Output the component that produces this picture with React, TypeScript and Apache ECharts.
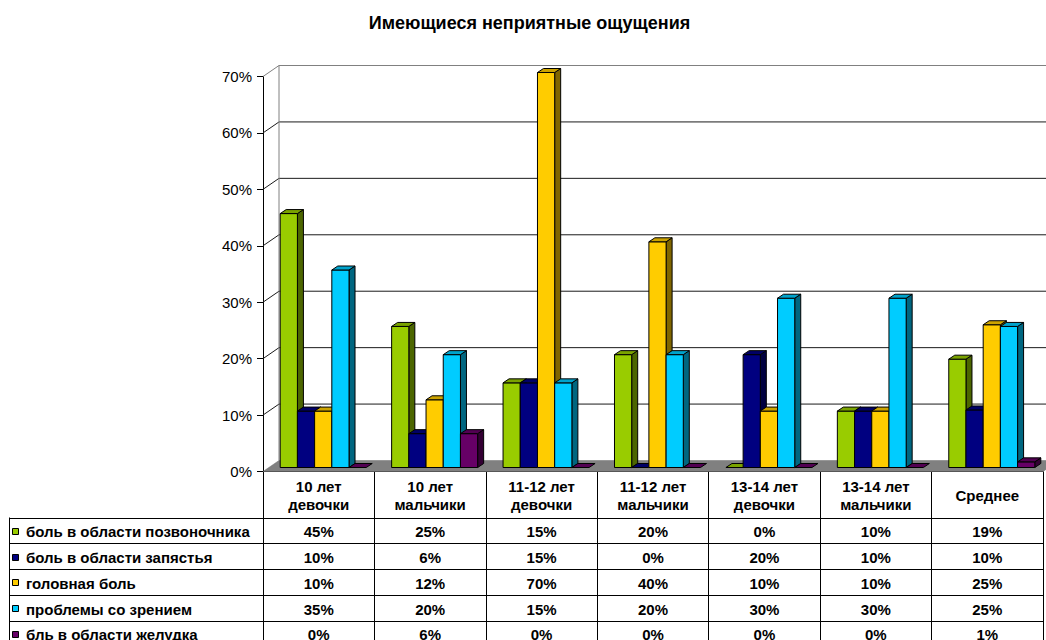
import React, { useEffect, useRef } from 'react';
import * as echarts from 'echarts';

const chartTitle = 'Имеющиеся неприятные ощущения';
const categories = [
  '10 лет\nдевочки',
  '10 лет\nмальчики',
  '11-12 лет\nдевочки',
  '11-12 лет\nмальчики',
  '13-14 лет\nдевочки',
  '13-14 лет\nмальчики',
  'Среднее',
];
const seriesNames = [
  'боль в области позвоночника',
  'боль в области запястья',
  'головная боль',
  'проблемы со зрением',
  'бль в области желудка',
];
const spine = [45, 25, 15, 20, 0, 10, 19.2];
const wrist = [10, 6, 15, 0, 20, 10, 10.2];
const headache = [10, 12, 70, 40, 10, 10, 25.3];
const vision = [35, 20, 15, 20, 30, 30, 25];
const stomach = [0, 6, 0, 0, 0, 0, 1];
const yTicks = [0, 10, 20, 30, 40, 50, 60, 70];

const seriesData = [spine, wrist, headache, vision, stomach];
const frontColors = ['#99CC00', '#000080', '#FFCC00', '#00CCFF', '#660066'];
const sideColors = ['#4C6600', '#000040', '#806600', '#006680', '#330033'];
const topColors = ['#7AA300', '#000066', '#CCA300', '#00A3CC', '#520052'];

const FONT = 'Arial, "Liberation Sans", sans-serif';
const GRID_LEFT = 263;
const GRID_RIGHT_X = 1043;
const GRID_TOP = 76.5;
const AXIS_Y = 471.5;
const WALL_DX = 16;
const WALL_DY = -11;
const BAR_DX = 6;
const BAR_DY = -4;
const BAR_SHIFT_X = 4.5;
const BAR_SHIFT_Y = -4;
const BAR_GROUP_RATIO = 0.772;
const TABLE_LEFT = 9.5;
const HEADER_BOTTOM = 517.5;
const ROW_H = 25.75;

function fmtPct(v: number) {
  return Math.round(v) + '%';
}

export default function App() {
  const ref = useRef<HTMLDivElement>(null);

  useEffect(() => {
    if (!ref.current) return;
    const chart = echarts.init(ref.current, undefined, { renderer: 'svg' });

    const frameRender = (params: any, api: any) => {
      const band = api.size([1, 0])[0];
      const xL = api.coord([0, 0])[0] - band / 2;
      const xR = api.coord([categories.length - 1, 0])[0] + band / 2;
      const y0 = api.coord([0, 0])[1];
      const yMax = api.coord([0, yTicks[yTicks.length - 1]])[1];
      const children: any[] = [];
      yTicks.forEach((v, i) => {
        const fy = api.coord([0, v])[1];
        const isTop = i === yTicks.length - 1;
        if (v > 0) {
          children.push({
            type: 'line',
            shape: { x1: xL + WALL_DX, y1: fy + WALL_DY, x2: xR + WALL_DX, y2: fy + WALL_DY },
            style: { stroke: isTop ? '#808080' : '#1a1a1a', lineWidth: 1 },
          });
          children.push({
            type: 'line',
            shape: { x1: xL, y1: fy, x2: xL + WALL_DX, y2: fy + WALL_DY },
            style: { stroke: isTop ? '#808080' : '#1a1a1a', lineWidth: 1 },
          });
        }
      });
      children.push({
        type: 'line',
        shape: { x1: xL + WALL_DX, y1: yMax + WALL_DY, x2: xL + WALL_DX, y2: y0 + WALL_DY },
        style: { stroke: '#808080', lineWidth: 1 },
      });
      children.push({
        type: 'polygon',
        shape: {
          points: [
            [xL, y0],
            [xR, y0],
            [xR + WALL_DX, y0 + WALL_DY],
            [xL + WALL_DX, y0 + WALL_DY],
          ],
        },
        style: { fill: '#808080', stroke: '#6e6e6e', lineWidth: 0.5 },
      });
      return { type: 'group', children };
    };

    const makeBarRender = (si: number) => (params: any, api: any) => {
      const cat = api.value(0);
      const val = api.value(1);
      const [cx, yTop0] = api.coord([cat, val]);
      const yBase0 = api.coord([cat, 0])[1];
      const band = api.size([1, 0])[0];
      const n = seriesData.length;
      const bw = (band * BAR_GROUP_RATIO) / n;
      const x0 = cx - (n / 2) * bw + si * bw + BAR_SHIFT_X;
      const x1 = x0 + bw;
      const yT = yTop0 + BAR_SHIFT_Y;
      const yB = yBase0 + BAR_SHIFT_Y;
      const stroke = { stroke: '#000', lineWidth: 1, lineJoin: 'round' };
      const children: any[] = [];
      if (yB - yT > 0.5) {
        children.push({
          type: 'polygon',
          shape: { points: [[x1, yT], [x1 + BAR_DX, yT + BAR_DY], [x1 + BAR_DX, yB + BAR_DY], [x1, yB]] },
          style: { fill: sideColors[si], ...stroke },
        });
        children.push({
          type: 'rect',
          shape: { x: x0, y: yT, width: bw, height: yB - yT },
          style: { fill: frontColors[si], ...stroke },
        });
      }
      children.push({
        type: 'polygon',
        shape: { points: [[x0, yT], [x1, yT], [x1 + BAR_DX, yT + BAR_DY], [x0 + BAR_DX, yT + BAR_DY]] },
        style: { fill: topColors[si], ...stroke },
      });
      return { type: 'group', children };
    };

    const colW = (GRID_RIGHT_X - GRID_LEFT) / categories.length;
    const graphics: any[] = [];
    graphics.push({
      type: 'text',
      x: 529.5,
      y: 23,
      style: {
        text: chartTitle,
        font: `bold 18px ${FONT}`,
        fill: '#000',
        align: 'center',
        verticalAlign: 'middle',
      },
    });
    for (let i = 0; i <= seriesNames.length; i++) {
      const y = Math.round(HEADER_BOTTOM + i * ROW_H) + 0.5;
      graphics.push({
        type: 'line',
        shape: { x1: TABLE_LEFT, y1: y, x2: GRID_RIGHT_X, y2: y },
        style: { stroke: '#000', lineWidth: 1 },
      });
    }
    graphics.push({
      type: 'line',
      shape: { x1: TABLE_LEFT, y1: HEADER_BOTTOM, x2: TABLE_LEFT, y2: 660 },
      style: { stroke: '#000', lineWidth: 1 },
    });
    seriesNames.forEach((name, si) => {
      const cy = HEADER_BOTTOM + (si + 0.5) * ROW_H + 1.5;
      graphics.push({
        type: 'rect',
        shape: { x: 12.5, y: Math.round(cy - 4) + 0.5, width: 6, height: 6 },
        style: { fill: frontColors[si], stroke: '#000', lineWidth: 1 },
      });
      graphics.push({
        type: 'text',
        x: 26,
        y: cy,
        style: {
          text: name,
          font: `bold 15px ${FONT}`,
          fill: '#000',
          align: 'left',
          verticalAlign: 'middle',
        },
      });
      seriesData[si].forEach((v, ci) => {
        graphics.push({
          type: 'text',
          x: GRID_LEFT + (ci + 0.5) * colW,
          y: cy,
          style: {
            text: fmtPct(v),
            font: `bold 15px ${FONT}`,
            fill: '#000',
            align: 'center',
            verticalAlign: 'middle',
          },
        });
      });
    });

    const option: any = {
      animation: false,
      backgroundColor: '#fff',
      grid: {
        left: GRID_LEFT,
        top: GRID_TOP,
        width: GRID_RIGHT_X - GRID_LEFT,
        height: AXIS_Y - GRID_TOP,
        containLabel: false,
      },
      xAxis: {
        type: 'category',
        data: categories,
        boundaryGap: true,
        axisLine: { show: true, lineStyle: { color: '#000', width: 1 } },
        axisTick: { show: true, interval: 0, length: 175, lineStyle: { color: '#000', width: 1 } },
        axisLabel: {
          interval: 0,
          margin: 24,
          verticalAlign: 'middle',
          lineHeight: 18,
          fontSize: 15,
          fontWeight: 'bold',
          fontFamily: FONT,
          color: '#000',
        },
        splitLine: { show: false },
      },
      yAxis: {
        type: 'value',
        min: 0,
        max: 70,
        interval: 10,
        axisLine: { show: true, lineStyle: { color: '#000', width: 1 } },
        axisTick: { show: true, length: 6, lineStyle: { color: '#000', width: 1 } },
        axisLabel: {
          margin: 11,
          formatter: '{value}%',
          fontSize: 15,
          fontFamily: FONT,
          color: '#000',
        },
        splitLine: { show: false },
      },
      series: [
        {
          type: 'custom',
          name: 'frame',
          renderItem: frameRender,
          data: [[0, 0]],
          z: 1,
          silent: true,
        },
        ...seriesData.map((arr, si) => ({
          type: 'custom',
          name: seriesNames[si],
          renderItem: makeBarRender(si),
          data: arr.map((v, ci) => [ci, v]),
          z: 2 + si,
          encode: { x: 0, y: 1 },
        })),
      ],
      graphic: graphics,
    };

    chart.setOption(option);
    return () => chart.dispose();
  }, []);

  return (
    <div
      ref={ref}
      style={{ position: 'absolute', left: 0, top: 0, width: 1046, height: 640 }}
    />
  );
}
